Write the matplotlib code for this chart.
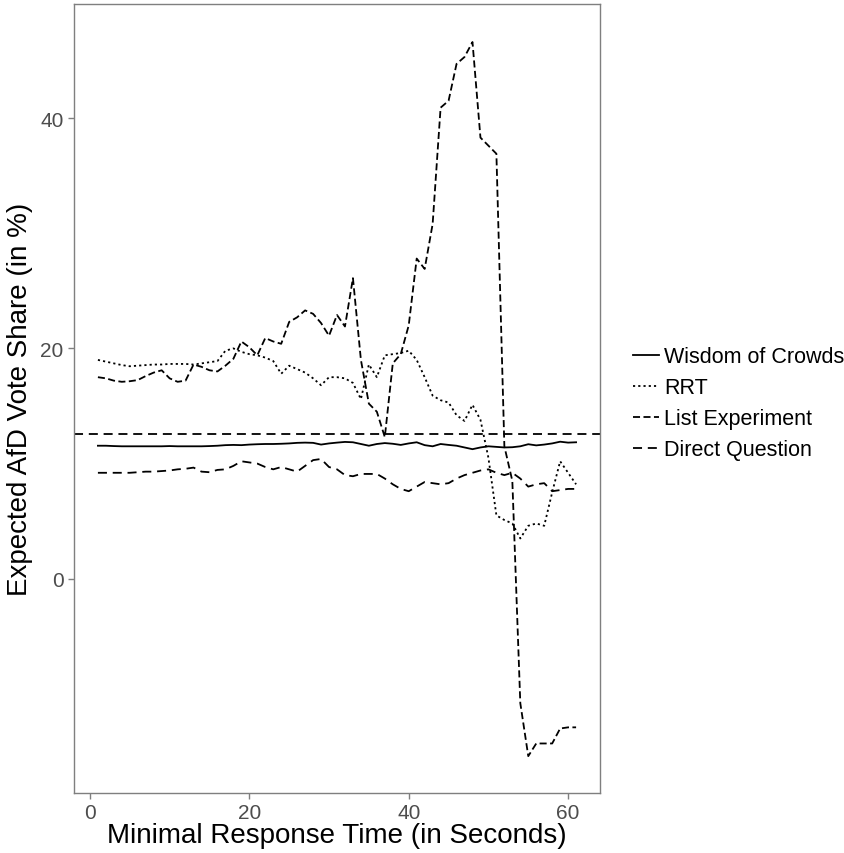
import matplotlib
matplotlib.use("Agg")
import matplotlib.pyplot as plt
from matplotlib.lines import Line2D

plt.rcParams["font.family"] = ["Liberation Sans", "DejaVu Sans"]

# ---------------------------------------------------------------------------
# Data
# ---------------------------------------------------------------------------
seconds = list(range(1, 62))

wisdom = [11.55, 11.55, 11.52, 11.5, 11.5, 11.5, 11.5, 11.5, 11.5, 11.52,
          11.5, 11.5, 11.5, 11.5, 11.52, 11.55, 11.6, 11.62, 11.6, 11.65,
          11.68, 11.7, 11.7, 11.72, 11.75, 11.8, 11.82, 11.8, 11.65, 11.75,
          11.82, 11.88, 11.85, 11.7, 11.55, 11.7, 11.78, 11.72, 11.62, 11.75,
          11.85, 11.6, 11.5, 11.7, 11.62, 11.55, 11.4, 11.25, 11.4, 11.5,
          11.45, 11.4, 11.42, 11.5, 11.68, 11.58, 11.65, 11.75, 11.9, 11.82,
          11.85]

rrt = [19.0, 18.85, 18.7, 18.55, 18.45, 18.5, 18.55, 18.6, 18.6, 18.65,
       18.65, 18.65, 18.6, 18.7, 18.8, 18.9, 19.8, 20.0, 19.7, 19.5,
       19.4, 19.2, 18.9, 17.8, 18.5, 18.2, 17.9, 17.4, 16.8, 17.5,
       17.5, 17.4, 17.0, 15.6, 18.6, 17.5, 19.4, 19.5, 19.6, 19.8,
       19.0, 17.5, 15.9, 15.5, 15.3, 14.2, 13.7, 15.1, 13.8, 10.5,
       5.5, 5.1, 4.8, 3.5, 4.6, 4.8, 4.6, 7.5, 10.2, 9.2,
       8.2]

list_exp = [17.5, 17.4, 17.2, 17.1, 17.15, 17.25, 17.6, 17.9, 18.1, 17.4,
            17.1, 17.2, 18.6, 18.4, 18.1, 18.0, 18.5, 19.1, 20.6, 20.1,
            19.4, 20.9, 20.6, 20.4, 22.3, 22.7, 23.3, 23.0, 22.2, 21.1,
            22.9, 21.9, 26.1, 19.0, 15.2, 14.5, 12.3, 18.7, 19.5, 22.0,
            27.8, 26.9, 30.8, 40.9, 41.5, 44.7, 45.3, 46.6, 38.3, 37.6,
            36.9, 11.5, 8.5, -10.8, -15.4, -14.3, -14.3, -14.3, -13.0, -12.9,
            -12.9]

direct = [9.2, 9.2, 9.2, 9.2, 9.2, 9.25, 9.3, 9.3, 9.35, 9.4,
          9.5, 9.55, 9.65, 9.3, 9.25, 9.45, 9.5, 9.8, 10.2, 10.1,
          10.0, 9.7, 9.5, 9.7, 9.5, 9.3, 9.8, 10.3, 10.4, 9.7,
          9.5, 9.0, 8.9, 9.1, 9.1, 9.1, 8.7, 8.2, 7.8, 7.6,
          8.0, 8.4, 8.3, 8.2, 8.3, 8.7, 9.0, 9.2, 9.4, 9.5,
          9.2, 9.0, 9.2, 8.7, 8.0, 8.2, 8.3, 7.6, 7.7, 7.8,
          7.8]

election_result = 12.6

labels = ["Wisdom of Crowds", "RRT", "List Experiment", "Direct Question"]
x_ticks = [0, 20, 40, 60]
y_ticks = [0, 20, 40]

# ---------------------------------------------------------------------------
# Figure
# ---------------------------------------------------------------------------
fig = plt.figure(figsize=(8.45, 8.54), dpi=100)
ax = fig.add_axes([74 / 845, 60 / 854, 526 / 845, 789 / 854])

lw = 1.3
style_solid = dict(color="black", lw=lw, linestyle="-")
style_dot = dict(color="black", lw=lw, linestyle=(0, (1.2, 1.7)))
style_dash = dict(color="black", lw=lw, linestyle=(0, (3.9, 1.9)))
style_long = dict(color="black", lw=lw, linestyle=(0, (5.0, 3.2)))

ax.plot(seconds, wisdom, **style_solid)
ax.plot(seconds, rrt, **style_dot)
ax.plot(seconds, list_exp, **style_dash)
ax.plot(seconds, direct, **style_long)
ax.axhline(election_result, **style_long)

ax.set_xlim(-2, 64)
ax.set_ylim(-18.6, 49.9)
ax.set_xticks(x_ticks)
ax.set_yticks(y_ticks)
ax.tick_params(colors="#7f7f7f", labelcolor="#4d4d4d", labelsize=15,
               length=4, width=1)

for sp in ax.spines.values():
    sp.set_color("#7f7f7f")
    sp.set_linewidth(1.0)

ax.set_xlabel("Minimal Response Time (in Seconds)", fontsize=20, labelpad=0)
ax.set_ylabel("Expected AfD Vote Share (in %)", fontsize=20, labelpad=5)

handles = [Line2D([], [], **style_solid),
           Line2D([], [], **style_dot),
           Line2D([], [], **style_dash),
           Line2D([], [], **style_long)]
ax.legend(handles, labels, loc="center left", bbox_to_anchor=(1.046, 0.494),
          frameon=False, fontsize=15.5, handlelength=1.2, handletextpad=0.25,
          labelspacing=0.47, borderaxespad=0)

fig.savefig("out.png", dpi=100)
plt.close(fig)
